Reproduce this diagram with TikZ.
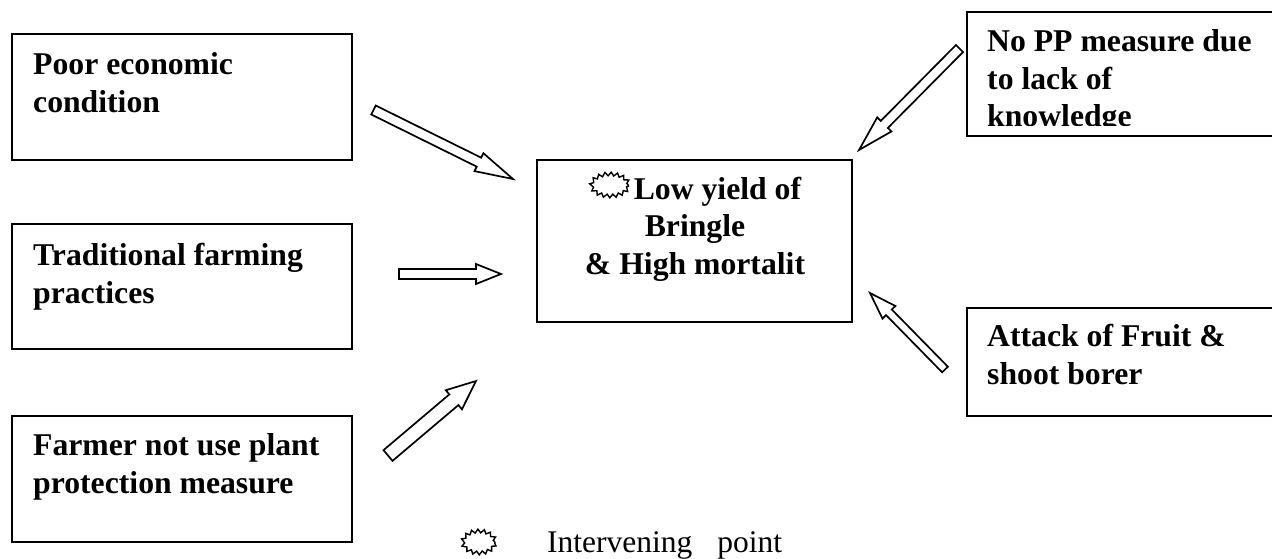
\documentclass[tikz,border=0pt]{standalone}
\usepackage{fontspec}
\setmainfont{Liberation Serif}
\usepackage{tikz}
\usetikzlibrary{calc}
\usetikzlibrary{shapes.geometric}
\usetikzlibrary{decorations.pathmorphing}

\tikzset{
	causebox/.style={draw,line width=1.8pt,inner sep=0pt,anchor=north west},
	causetext/.style={anchor=base west,inner sep=0pt,align=left,font=\fontsize{31.7}{37.4}\bfseries\selectfont},
	blockarrow/.style={draw,fill=white,line width=1.7pt,miter limit=4},
	burst/.style={draw,ellipse,inner sep=0pt,line width=1.4pt,decorate,
		decoration={zigzag,segment length=6pt,amplitude=1.8pt}}
}

\begin{document}
\begin{tikzpicture}[x=1pt,y=-1pt]
	\clip (0,0) rectangle (1272,558);

	%% Boxes on the left
	\node[causebox,minimum width=340pt,minimum height=126pt] (poor) at (11,33) {};
	\node[causebox,minimum width=340pt,minimum height=125pt] (trad) at (11,223) {};
	\node[causebox,minimum width=340pt,minimum height=126pt] (farmer) at (11,415) {};

	%% Central box
	\node[causebox,minimum width=315pt,minimum height=162pt] (low) at (536,159) {};

	%% Boxes on the right (they run off the page)
	\node[causebox,minimum width=320pt,minimum height=124pt] (nopp) at (966,11) {};
	\node[causebox,minimum width=320pt,minimum height=108pt] (attack) at (966,307) {};

	%% Texts
	\node[causetext] (poortext) at (33,112) {Poor economic\\condition};
	\node[causetext] (tradtext) at (33,303) {Traditional farming\\practices};
	\node[causetext] (farmertext) at (33,493) {Farmer not use plant\\protection measure};
	\node[causetext] (attacktext) at (987,384) {Attack of Fruit \&\\shoot borer};
	\node[causetext,align=center,anchor=base] (lowtext) at (695,274)
		{\hspace*{45pt}Low yield of\\Bringle\\\& High mortalit};

	% The last line of this one is cut by the edge of the box
	\begin{scope}
		\clip (966,11) rectangle (1272,125);
		\node[causetext] (nopptext) at (987,126.5) {No PP measure due\\to lack of\\knowledge};
	\end{scope}

	%% Ends of the block arrows
	\coordinate (T1) at (373.5,110);
	\coordinate (H1) at (513,179);
	\coordinate (T2) at (399,274);
	\coordinate (H2) at (501,274);
	\coordinate (T3) at (388,455.5);
	\coordinate (H3) at (476,381);
	\coordinate (T4) at (959.5,48.5);
	\coordinate (H4) at (859,150);
	\coordinate (T5) at (945,369.5);
	\coordinate (H5) at (870,293);

	%% tail / tip / head length / head half width / shaft half width
	\foreach \t/\h/\l/\w/\s in {T1/H1/38/10/5,T2/H2/25/10/5,T3/H3/29/12.5/7,T4/H4/36/10/5,T5/H5/27/9/4}
	{
		\coordinate (N) at ($(\h)!\l pt!(\t)$);
		\draw[blockarrow] ($(\t)!\s pt!90:(\h)$) -- ($(N)!\s pt!90:(\h)$)
			-- ($(N)!\w pt!90:(\h)$) -- (\h) -- ($(N)!\w pt!-90:(\h)$)
			-- ($(N)!\s pt!-90:(\h)$) -- ($(\t)!\s pt!-90:(\h)$) -- cycle;
	}

	%% Intervening point marks
	\node[burst,minimum width=37pt,minimum height=22pt] (mark) at (610,185) {};
	\node[burst,minimum width=32pt,minimum height=22pt] (legendmark) at (479,542) {};
	\node[anchor=base west,inner sep=0pt,font=\fontsize{31.5}{37}\selectfont] (legendtext) at (547,552)
		{Intervening\hspace{25pt}point};
\end{tikzpicture}
\end{document}
